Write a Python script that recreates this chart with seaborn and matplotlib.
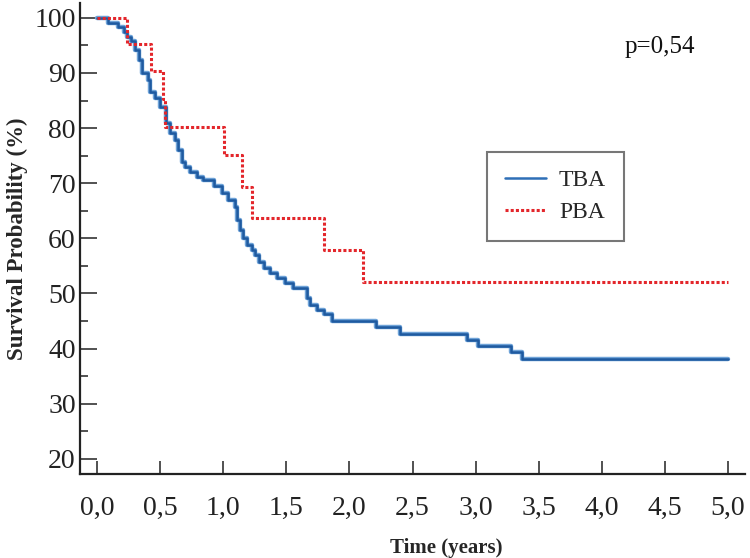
import numpy as np
import pandas as pd
import seaborn as sns
import matplotlib
matplotlib.use("Agg")
import matplotlib.pyplot as plt
import matplotlib.patheffects as pe
from matplotlib.ticker import FixedLocator, FuncFormatter

# Kaplan-Meier step data (time in years, survival in %)
tba_time = [0, 0.09, 0.17, 0.21, 0.24, 0.27, 0.30, 0.33, 0.36, 0.40, 0.42, 0.46,
            0.50, 0.55, 0.58, 0.62, 0.64, 0.67, 0.70, 0.74, 0.79, 0.84, 0.93,
            0.99, 1.04, 1.09, 1.11, 1.13, 1.16, 1.19, 1.23, 1.25, 1.28, 1.32,
            1.37, 1.43, 1.49, 1.55, 1.66, 1.69, 1.74, 1.80, 1.86, 2.21, 2.40,
            2.93, 3.02, 3.28, 3.37, 5.0]
tba_surv = [100, 99.1, 98.4, 97.5, 96.6, 95.8, 94.2, 92.4, 90.0, 88.7, 86.6, 85.5,
            83.8, 81.0, 79.1, 77.9, 76.0, 73.9, 73.0, 72.0, 71.2, 70.5, 69.5,
            68.2, 67.0, 65.7, 63.3, 61.5, 60.0, 58.8, 57.9, 57.0, 55.7, 54.6,
            53.7, 52.8, 51.9, 51.0, 49.2, 47.9, 47.0, 46.2, 45.0, 43.9, 42.7,
            41.5, 40.5, 39.3, 38.1, 38.1]

pba_time = [0, 0.24, 0.43, 0.52, 0.54, 1.01, 1.15, 1.23, 1.80, 2.11, 5.0]
pba_surv = [100, 95.3, 90.4, 85.3, 80.2, 75.2, 69.3, 63.6, 57.9, 52.0, 52.0]

x_ticks = [0, 0.5, 1.0, 1.5, 2.0, 2.5, 3.0, 3.5, 4.0, 4.5, 5.0]
y_ticks = [20, 30, 40, 50, 60, 70, 80, 90, 100]
y_minor = [25, 35, 45, 55, 65, 75, 85, 95]
p_text = "p=0,54"

sns.set_style("ticks")
plt.rcParams['font.family'] = ['Liberation Serif', 'DejaVu Serif']

tba = pd.DataFrame({'time': tba_time, 'surv': tba_surv})
pba = pd.DataFrame({'time': pba_time, 'surv': pba_surv})

fig = plt.figure(figsize=(7.5, 5.58), dpi=100)
ax = fig.add_axes([80 / 750, 1 - 474 / 558, 665 / 750, 471 / 558])

sns.lineplot(data=tba, x='time', y='surv', ax=ax, sort=False, estimator=None,
             drawstyle='steps-post', color='#1f5aa0', linewidth=1.8, label='TBA',
             path_effects=[pe.Stroke(linewidth=3.2, foreground='#6fa3d8'), pe.Normal()])
sns.lineplot(data=pba, x='time', y='surv', ax=ax, sort=False, estimator=None,
             drawstyle='steps-post', color='#e3262b', linewidth=2.2, label='PBA',
             dashes=False, linestyle=(0, (1.0, 0.7)))

ax.set_xlim(-0.135, 5.135)
ax.set_ylim(17.24, 102.7)

ax.xaxis.set_major_locator(FixedLocator(x_ticks))
ax.yaxis.set_major_locator(FixedLocator(y_ticks))
ax.yaxis.set_minor_locator(FixedLocator(y_minor))
ax.xaxis.set_major_formatter(FuncFormatter(lambda v, _: f"{v:.1f}".replace('.', ',')))
ax.yaxis.set_major_formatter(FuncFormatter(lambda v, _: f"{v:.0f}"))

ax.tick_params(axis='both', which='major', direction='in', width=1.1,
               labelsize=20, colors='#222222', labelcolor='#222222')
ax.tick_params(axis='x', which='major', length=9.5, pad=16)
ax.tick_params(axis='y', which='major', length=12, pad=3)
ax.tick_params(axis='y', which='minor', direction='in', length=6, width=1.1, colors='#222222')

sns.despine(ax=ax)
for side in ['left', 'bottom']:
    ax.spines[side].set_linewidth(1.6)
    ax.spines[side].set_color('#222222')

ax.set_xlabel('Time (years)', fontsize=15, fontweight='bold', labelpad=12,
              x=(446 - 80) / 665)
ax.set_ylabel('Survival Probability (%)', fontsize=16.5, fontweight='bold', labelpad=5)

ax.text(660 / 750, 1 - 47 / 558, p_text, transform=fig.transFigure,
        ha='center', va='center', fontsize=18, color='#111111')

leg = ax.legend(loc='upper left', bbox_to_anchor=((487 - 80) / 665, (474 - 152) / 471),
                borderaxespad=0, fontsize=17, frameon=True, fancybox=False,
                handlelength=1.75, handletextpad=0.55, borderpad=0.75, labelspacing=0.45)
leg.get_frame().set_edgecolor('#555555')
leg.get_frame().set_linewidth(1.5)
leg.legend_handles[0].set_path_effects([])
leg.legend_handles[0].set_color('#2e6fb7')

fig.savefig('out.png', dpi=100)
